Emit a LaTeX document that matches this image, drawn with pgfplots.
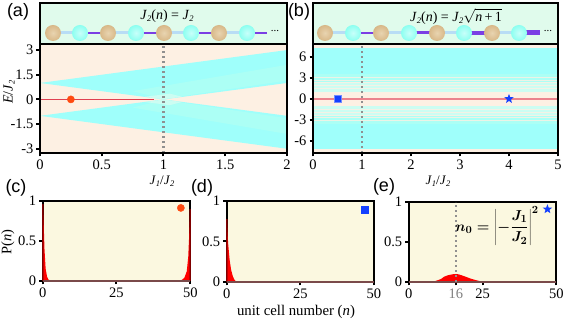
\documentclass[border=0pt]{standalone}
\usepackage{pgfplots}
\pgfplotsset{compat=1.18}
\usepackage{fontspec}
\setmainfont{Liberation Serif}
\newfontfamily\arial{Liberation Sans}
\definecolor{peach}{HTML}{FDF0E3}
\definecolor{cya}{HTML}{9FFFFB}
\definecolor{cyb}{HTML}{ACFFF5}
\definecolor{cyc}{HTML}{CCFDF2}
\definecolor{mint}{HTML}{E0FBEC}
\definecolor{cream}{HTML}{FBF8E0}
\definecolor{lnk}{HTML}{B8DDF5}
\definecolor{pur}{HTML}{7B3FE4}
\definecolor{rl}{HTML}{E04050}
\definecolor{basec}{HTML}{7A4A4A}
\definecolor{org}{HTML}{FF4A10}
\definecolor{blu}{HTML}{1440FF}
\definecolor{dotg}{HTML}{909090}
\definecolor{tanA}{HTML}{E8D4B0}
\definecolor{tanB}{HTML}{D8B888}
\definecolor{tanC}{HTML}{B08C58}
\definecolor{cyA}{HTML}{C8FFFA}
\definecolor{cyB}{HTML}{8CFFF0}
\definecolor{cyC}{HTML}{68E4E0}
\pgfdeclareradialshading{tanb}{\pgfpoint{0bp}{0bp}}{color(0bp)=(tanA); color(25bp)=(tanB); color(50bp)=(tanC)}
\pgfdeclareradialshading{cyanb}{\pgfpoint{0bp}{0bp}}{color(0bp)=(cyA); color(25bp)=(cyB); color(50bp)=(cyC)}
\pgfdeclareplotmark{tanball}{\pgfpathcircle{\pgfpointorigin}{\pgfplotmarksize}\pgfshadepath{tanb}{0}\pgfusepath{discard}}
\pgfdeclareplotmark{cyanball}{\pgfpathcircle{\pgfpointorigin}{\pgfplotmarksize}\pgfshadepath{cyanb}{0}\pgfusepath{discard}}
\pgfdeclareplotmark{fstar}{%
  \pgfpathmoveto{\pgfqpointpolar{90}{\pgfplotmarksize}}%
  \pgfpathlineto{\pgfqpointpolar{126}{0.42\pgfplotmarksize}}%
  \pgfpathlineto{\pgfqpointpolar{162}{\pgfplotmarksize}}%
  \pgfpathlineto{\pgfqpointpolar{198}{0.42\pgfplotmarksize}}%
  \pgfpathlineto{\pgfqpointpolar{234}{\pgfplotmarksize}}%
  \pgfpathlineto{\pgfqpointpolar{270}{0.42\pgfplotmarksize}}%
  \pgfpathlineto{\pgfqpointpolar{306}{\pgfplotmarksize}}%
  \pgfpathlineto{\pgfqpointpolar{342}{0.42\pgfplotmarksize}}%
  \pgfpathlineto{\pgfqpointpolar{18}{\pgfplotmarksize}}%
  \pgfpathlineto{\pgfqpointpolar{54}{0.42\pgfplotmarksize}}%
  \pgfpathclose\pgfusepathqfill}
\newcommand\Jt[1]{\textit{J}\raisebox{-0.3ex}{\fontsize{8.5}{9}\selectfont\textit{#1}}}
\pgfplotsset{
  base/.style={scale only axis, axis on top, axis line style={line width=2pt,black},
    tick style={line width=2pt,black}, major tick length=3.5pt, tick align=outside,
    xtick pos=bottom, ytick pos=left, clip=true,
    /pgf/number format/assume math mode=true,
    tick label style={font=\fontsize{14.5}{15}\selectfont},
    xticklabel style={yshift=0.5pt}, yticklabel style={xshift=0.5pt}},
  sch/.style={scale only axis, axis on top, axis line style={line width=2pt,black},
    ticks=none, y dir=reverse, ymin=3, ymax=44,
    axis background/.style={fill=mint}, clip=true},
  ptile/.style={base, axis on top=false, clip=false, ymin=0, ymax=1, ytick={0,0.5,1}, yticklabels={0,0.5,1},
    xmin=0, xmax=50, axis background/.style={fill=cream}},
  dotl/.style={color=dotg, line width=2.4pt, dash pattern=on 2.4pt off 2.6pt}
}
\begin{document}
\begin{tikzpicture}[x=1pt,y=1pt]
\useasboundingbox (0,0) rectangle (563,321);
% ---- schematic a
\begin{axis}[sch, at={(40pt,277pt)}, anchor=south west, width=247pt, height=41pt, xmin=40, xmax=287]
\addplot[lnk, line width=3pt] coordinates {(53,33)(80,33)};
\addplot[lnk, line width=3pt] coordinates {(108,33)(136,33)};
\addplot[lnk, line width=3pt] coordinates {(164,33)(191,33)};
\addplot[lnk, line width=3pt] coordinates {(219,33)(247,33)};
\addplot[pur, line width=2pt] coordinates {(80,33)(108,33)};
\addplot[pur, line width=2pt] coordinates {(136,33)(164,33)};
\addplot[pur, line width=2pt] coordinates {(191,33)(219,33)};
\addplot[pur, line width=2pt] coordinates {(247,33)(267,33)};
\addplot[only marks, mark=tanball, mark size=8pt, draw=none] coordinates {(53,33)(108,33)(164,33)(219,33)};
\addplot[only marks, mark=cyanball, mark size=8pt, draw=none] coordinates {(80,33)(136,33)(191,33)(247,33)};
\node at (axis cs:275,31.5) {\fontsize{11}{12}\selectfont ...};
\node at (axis cs:167,16) {\fontsize{14}{15}\selectfont\Jt{2}(\textit{n}) = \Jt{2}};
\end{axis}
% ---- schematic b
\begin{axis}[sch, at={(313pt,277pt)}, anchor=south west, width=245pt, height=41pt, xmin=313, xmax=558]
\addplot[lnk, line width=3pt] coordinates {(325,33)(353,33)};
\addplot[lnk, line width=3pt] coordinates {(381,33)(409,33)};
\addplot[lnk, line width=3pt] coordinates {(437,33)(464,33)};
\addplot[lnk, line width=3pt] coordinates {(492,33)(519,33)};
\addplot[pur, line width=2pt] coordinates {(353,33)(381,33)};
\addplot[pur, line width=3pt] coordinates {(409,33)(437,33)};
\addplot[pur, line width=4pt] coordinates {(464,33)(492,33)};
\addplot[pur, line width=5pt] coordinates {(519,33)(540,33)};
\addplot[only marks, mark=tanball, mark size=8pt, draw=none] coordinates {(325,33)(381,33)(437,33)(492,33)};
\addplot[only marks, mark=cyanball, mark size=8pt, draw=none] coordinates {(353,33)(409,33)(464,33)(519,33)};
\node at (axis cs:548,31.5) {\fontsize{11}{12}\selectfont ...};
\node at (axis cs:456,16.5) {\fontsize{14}{15}\selectfont\Jt{2}(\textit{n}) = \Jt{2}$\sqrt{\mbox{\textit{n}\,+\,1}}$};
\end{axis}
% ---- panel a
\begin{axis}[base, at={(40pt,168pt)}, anchor=south west, width=247pt, height=109pt,
  xmin=0, xmax=2, ymin=-3.26, ymax=3.37, xtick={0,0.5,1,1.5,2}, xticklabels={0,0.5,1,1.5,2},
  ytick={-3,-1.5,0,1.5,3}, yticklabels={-3,-1.5,0,1.5,3}, axis background/.style={fill=peach}]
\addplot[fill=cya, draw=none] coordinates {(0,1)(1,0)(2,1)(2,3)};
\addplot[fill=cya, draw=none] coordinates {(0,-1)(1,0)(2,-1)(2,-3)};
\addplot[fill=cyb, draw=none] coordinates {(0.75,0.5)(1,0.03)(2,1.15)(2,2.1)};
\addplot[fill=cyb, draw=none] coordinates {(0.75,-0.5)(1,-0.03)(2,-1.15)(2,-2.1)};
\addplot[fill=cyc, draw=none] coordinates {(0.85,0.16)(1,0.01)(1.15,0.16)(1.05,0.35)};
\addplot[fill=cyc, draw=none] coordinates {(0.85,-0.16)(1,-0.01)(1.15,-0.16)(1.05,-0.35)};
\addplot[rl, line width=1.2pt] coordinates {(0,0)(0.92,0)};
\addplot[dotl] coordinates {(1,-3.26)(1,3.37)};
\addplot[only marks, mark=*, mark size=3.6pt, mark options={fill=org, draw=org}] coordinates {(0.25,0)};
\end{axis}
% ---- panel b
\begin{axis}[base, at={(313pt,168pt)}, anchor=south west, width=245pt, height=109pt,
  xmin=0, xmax=5, ymin=-7.7, ymax=7.8, xtick={0,1,2,3,4,5},
  ytick={-6,-3,0,3,6}, yticklabels={-6,-3,0,3,6}, axis background/.style={fill=peach}]
\addplot[fill=cya, draw=none] coordinates {(0,-7.2)(5,-7.2)(5,7.2)(0,7.2)};
\addplot[fill=cyb, draw=none] coordinates {(0,-3.6)(5,-3.6)(5,3.6)(0,3.6)};
\addplot[fill=cyc, draw=none] coordinates {(0,-2.4)(5,-2.4)(5,2.4)(0,2.4)};
\addplot[fill=peach, draw=none] coordinates {(0,-1.0)(5,-1.0)(5,1.0)(0,1.0)};
\pgfplotsinvokeforeach{1.45,1.9,2.3,2.65,3.0}{
  \addplot[peach, line width=0.6pt, opacity=0.8] coordinates {(0,#1)(5,#1)};
  \addplot[peach, line width=0.6pt, opacity=0.8] coordinates {(0,-#1)(5,-#1)};
}
\addplot[rl!65!white, line width=1.5pt] coordinates {(0,0)(5,0)};
\addplot[dotl] coordinates {(1,-7.7)(1,7.8)};
\addplot[only marks, mark=square*, mark size=3.2pt, mark options={fill=blu, draw=blu!60!white}] coordinates {(0.5,0)};
\addplot[only marks, mark=fstar, mark size=5pt, color=blu, mark options={fill=blu}] coordinates {(4,0)};
\end{axis}
% ---- panel c
\begin{axis}[ptile, at={(42.7pt,40pt)}, anchor=south west, width=147.6pt, height=80.3pt, xtick={0,25,50}]
\addplot[fill=red, draw=none] coordinates {(0,0)(0,0.96)(0.35,0.7)(0.6,0.4)(1,0.15)(1.5,0.05)(2,0.015)(3,0)};
\addplot[fill=red, draw=none] coordinates {(46,0)(47,0.01)(48,0.04)(48.8,0.12)(49.3,0.3)(49.6,0.55)(50,0.9)(50,0)};
\addplot[red!60!black, opacity=0.6, line width=2pt] coordinates {(0,0)(0,0.96)};
\addplot[red!60!black, opacity=0.6, line width=2pt] coordinates {(50,0)(50,0.9)};
\addplot[basec, line width=1.2pt] coordinates {(0,0)(50,0)};
\addplot[only marks, mark=*, mark size=3.6pt, mark options={fill=org, draw=org}] coordinates {(46.8,0.91)};
\end{axis}
% ---- panel d
\begin{axis}[ptile, at={(226.7pt,39pt)}, anchor=south west, width=147.3pt, height=81.3pt, xtick={0,25,50}]
\addplot[fill=red, draw=none] coordinates {(0,0)(0,0.78)(0.5,0.47)(1,0.27)(1.5,0.15)(2,0.08)(2.5,0.035)(3,0.012)(4,0)};
\addplot[red!60!black, opacity=0.6, line width=2pt] coordinates {(0,0)(0,0.78)};
\addplot[basec, line width=1.2pt] coordinates {(0,0)(50,0)};
\addplot[only marks, mark=square*, mark size=3.2pt, mark options={fill=blu, draw=blu}] coordinates {(46.9,0.89)};
\end{axis}
% ---- panel e
\begin{axis}[ptile, at={(408.7pt,39pt)}, anchor=south west, width=147.6pt, height=80pt,
  xtick={0,16,25,50}, xticklabels={0,\textcolor{gray}{16},25,50}]
\addplot[fill=red, draw=none] coordinates {(5,0)(6,0.001)(7,0.002)(8,0.005)(9,0.012)(10,0.024)(11,0.039)(12,0.066)(13,0.081)(14,0.09)(15,0.097)(16,0.1)(17,0.095)(18,0.083)(19,0.07)(20,0.056)(21,0.042)(22,0.031)(23,0.021)(24,0.012)(25,0.007)(26,0.004)(27,0.002)(28,0.001)(29,0)};
\addplot[basec, line width=1.2pt] coordinates {(0,0)(50,0)};
\addplot[dotl] coordinates {(16,0)(16,1)};
\addplot[only marks, mark=fstar, mark size=5pt, color=blu, mark options={fill=blu}] coordinates {(47,0.91)};
\end{axis}
% ---- free labels
\node[inner sep=0pt] at (497,95) {{\fontsize{15}{17}\selectfont\boldmath$n_0=\left\vert-\displaystyle\frac{J_1}{J_2}\right\vert^{2}$}};
\node at (18,309) {\arial\fontsize{18}{20}\selectfont (a)};
\node at (299,309) {\arial\fontsize{18}{20}\selectfont (b)};
\node at (16,133) {\arial\fontsize{18}{20}\selectfont (c)};
\node at (202,133) {\arial\fontsize{18}{20}\selectfont (d)};
\node at (384,134) {\arial\fontsize{18}{20}\selectfont (e)};
\node at (162,140) {\fontsize{13}{14}\selectfont\Jt{1}/\Jt{2}};
\node at (438,140) {\fontsize{13}{14}\selectfont\Jt{1}/\Jt{2}};
\node[rotate=90] at (9,229) {\fontsize{14}{15}\selectfont\textit{E}/\Jt{2}};
\node[rotate=90] at (8,79) {\fontsize{14.5}{15}\selectfont P(\textit{n})};
\node at (296,9) {\fontsize{14.8}{15}\selectfont unit cell number (\textit{n})};
\end{tikzpicture}
\end{document}
